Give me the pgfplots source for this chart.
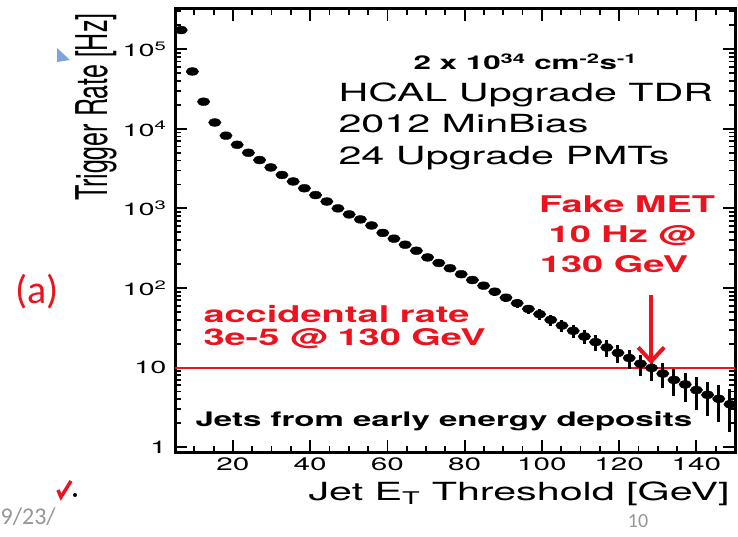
\documentclass[border=0pt]{standalone}
\usepackage{pgfplots}
\pgfplotsset{compat=1.18}
\usepackage{pgfplotstable}
\usepackage{fontspec}
\setmainfont{TeX Gyre Heros}[FakeStretch=1.65]
\newfontfamily\plainheros{TeX Gyre Heros}
\newfontfamily\carlito{Carlito}
\usetikzlibrary{arrows.meta}
\definecolor{slidered}{RGB}{235,20,30}
\definecolor{slidegray}{RGB}{150,150,150}
\definecolor{slideblue}{RGB}{125,165,215}

% threshold [GeV], rate [Hz], stat. error
\pgfplotstableread{
x y e
6.6 174000 417
9.5 52500 229
12.4 21900 148
15.3 12000 110
18.2 8200 91
21.1 6300 79
24.0 5000 71
26.9 4050 64
29.8 3270 57
32.7 2630 51
35.6 2180 47
38.5 1790 42
41.4 1470 38
44.3 1220 35
47.2 1000 32
50.1 840 29
53.0 727 27
55.9 610 25
58.8 492 22
61.7 417 20
64.6 350 19
67.5 294 17
70.4 242 16
73.3 206 14
76.2 177 13
79.1 149 12
82.0 126 11
84.9 107 10.3
87.8 89.9 9.5
90.7 75.6 8.7
93.6 64.4 8.0
96.5 54.6 7.4
99.4 46.9 6.8
102.3 39.8 6.3
105.2 33.8 5.8
108.1 29.0 5.4
111.0 24.6 5.0
113.9 20.9 4.6
116.8 17.9 4.2
119.7 15.3 3.9
122.6 13.2 3.6
125.5 11.2 3.3
128.4 9.9 3.1
131.3 8.41 2.9
134.2 7.0 2.6
137.1 6.15 2.5
140.0 5.22 2.3
142.9 4.55 2.1
145.8 4.05 2.0
148.7 3.46 1.9
}\ratetable

\begin{document}
\begin{tikzpicture}
\path[use as bounding box] (0pt,0pt) rectangle (738pt,536pt);
\begin{axis}[
    at={(175pt,84pt)}, anchor=south west,
    width=560pt, height=443pt, scale only axis,
    ymode=log,
    xmin=5, xmax=150, ymin=0.87, ymax=3.2e5,
    xtick={20,40,...,140},
    minor xtick={5,10,...,150},
    ytick={1,10,100,1000,10000,100000},
    yticklabels={1,10,10\textsuperscript{2},10\textsuperscript{3},10\textsuperscript{4},10\textsuperscript{5}},
    minor ytick={2,3,4,5,6,7,8,9,20,30,40,50,60,70,80,90,200,300,400,500,600,700,800,900,2000,3000,4000,5000,6000,7000,8000,9000,20000,30000,40000,50000,60000,70000,80000,90000,200000,300000},
    tick align=inside,
    major tick length=12pt, minor tick length=6pt,
    tick style={line width=1.8pt, black},
    axis line style={line width=3pt},
    /pgf/number format/assume math mode=true,
    xticklabel style={font=\fontsize{18}{18}\selectfont, yshift=-2pt},
    yticklabel style={font=\fontsize{17.5}{17.5}\selectfont, xshift=-5pt},
    clip=true
  ]
\addplot[draw=slidered, line width=2pt, no marks] coordinates {(5,10) (150,10)};
\addplot[only marks, black, mark=*, mark size=3.9pt,
    mark options={xscale=1.6, fill=black},
    error bars/.cd, y dir=both, y explicit, error mark=none,
    error bar style={line width=3pt}]
  table[x=x, y=y, y error=e] {\ratetable};
\draw[draw=slidered, line width=4pt, -{Straight Barb[length=14pt,width=26pt]}]
  (axis cs:128.3,82) -- (axis cs:128.3,11);
\end{axis}

% texts inside the frame
\node[anchor=base west, font=\bfseries\fontsize{19}{19}\selectfont] at (410pt,466pt)
  {2 x 10\textsuperscript{34} cm\textsuperscript{-2}s\textsuperscript{-1}};
\node[anchor=base west, font=\fontsize{25}{25}\selectfont] at (335pt,434pt) {HCAL Upgrade TDR};
\node[anchor=base west, font=\fontsize{25}{25}\selectfont] at (335pt,403pt) {2012 MinBias};
\node[anchor=base west, font=\fontsize{25}{25}\selectfont] at (335pt,371pt) {24 Upgrade PMTs};

\node[anchor=base, text=slidered, font=\bfseries\fontsize{23}{23}\selectfont] at (627pt,323pt) {Fake MET};
\node[anchor=base, text=slidered, font=\bfseries\fontsize{23}{23}\selectfont] at (622pt,293pt) {10 Hz @};
\node[anchor=base, text=slidered, font=\bfseries\fontsize{23}{23}\selectfont] at (614pt,264pt) {130 GeV};

\node[anchor=base west, text=slidered, font=\bfseries\fontsize{23}{23}\selectfont] at (200pt,214pt) {accidental rate};
\node[anchor=base west, text=slidered, font=\bfseries\fontsize{23}{23}\selectfont] at (200pt,191pt) {3e-5 @ 130 GeV};

\node[anchor=base west, font=\bfseries\fontsize{20}{20}\selectfont] at (192pt,110pt) {Jets from early energy deposits};

% axis titles
\node[rotate=90, yscale=1.75, anchor=base east, font=\plainheros\fontsize{25}{25}\selectfont] at (107pt,526pt) {Trigger Rate [Hz]};
\node[anchor=base east, font=\fontsize{25}{25}\selectfont] at (733pt,36pt) {Jet E\textsubscript{T} Threshold [GeV]};

% slide remnants
\node[text=slidered, font=\carlito\fontsize{40}{40}\selectfont] at (37pt,244pt) {(a)};
\node[text=slidegray, font=\carlito\fontsize{20}{20}\selectfont] at (638pt,15pt) {10};
\node[text=slidegray, anchor=west, inner sep=0pt, font=\carlito\fontsize{24}{24}\selectfont] at (0.5pt,19pt) {9/23/};
\fill[slideblue] (57pt,488pt) -- (70pt,476pt) -- (57pt,474pt) -- cycle;
\draw[draw=slidered, line width=3.5pt] (58pt,46pt) -- (61pt,39pt) -- (71pt,55pt);
\fill (75pt,41pt) circle (2pt);
\end{tikzpicture}
\end{document}
